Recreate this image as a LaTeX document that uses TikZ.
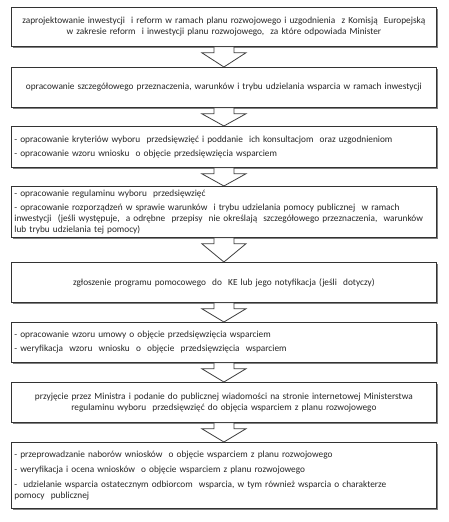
\documentclass[tikz,border=0pt]{standalone}
\usepackage{fontspec}
\setmainfont{Carlito}
\usetikzlibrary{shadows,calc}
\newcommand{\blockarrow}[2]{%
  \draw[barrow] let \p1=(#1.south), \p2=(#2.north) in
    (\x1-10pt,\y1) -- (\x1-10pt,\y1-6pt) -- (\x1-22pt,\y1-6pt) -- (\x1,\y2)
    -- (\x1+22pt,\y1-6pt) -- (\x1+10pt,\y1-6pt) -- (\x1+10pt,\y1) -- cycle;}
\begin{document}
\begin{tikzpicture}[x=1pt,y=1pt,
  stage/.style={draw=black!80, line width=0.8pt, fill=white, anchor=north west,
    minimum width=425pt, text width=419pt, inner xsep=3pt, inner ysep=2pt,
    font=\fontsize{9.3}{11.2}\selectfont, text=black!85,
    drop shadow={shadow xshift=1.8pt, shadow yshift=-1.8pt, fill=black!50, opacity=1}},
  leftbox/.style={stage, align=left},
  midbox/.style={stage, align=center},
  barrow/.style={draw=black!75, line width=0.8pt, fill=white, line join=miter}]
\useasboundingbox (0,0) rectangle (448,-522);
\fill[white] (0,0) rectangle (448,-522);

\node[midbox, minimum height=39pt] (b1) at (11,-7)
  {zaprojektowanie inwestycji\ \ i reform w ramach planu rozwojowego i uzgodnienia\ \ z Komisją\ \ Europejską\\
   w zakresie reform\ \ i inwestycji planu rozwojowego,\ \ za które odpowiada Minister};
\node[midbox, minimum height=40pt] (b2) at (11,-67)
  {opracowanie szczegółowego przeznaczenia, warunków i trybu udzielania wsparcia w ramach inwestycji};
\node[leftbox, minimum height=41pt] (b3) at (11,-126)
  {- opracowanie kryteriów wyboru\ \ przedsięwzięć i poddanie\ \ ich konsultacjom\ \ oraz uzgodnieniom\\[3pt]
   - opracowanie wzoru wniosku\ \ o objęcie przedsięwzięcia wsparciem};
\node[leftbox, minimum height=51pt] (b4) at (11,-186)
  {- opracowanie regulaminu wyboru\ \ przedsięwzięć\\[3pt]
   - opracowanie rozporządzeń w sprawie warunków\ \ i trybu udzielania pomocy publicznej\ \ w ramach\\
   inwestycji\ \ (jeśli występuje,\ \ a odrębne\ \ przepisy\ \ nie określają\ \ szczegółowego przeznaczenia,\ \ warunków\\
   lub trybu udzielania tej pomocy)};
\node[midbox, minimum height=40pt] (b5) at (11,-262)
  {zgłoszenie programu pomocowego\ \ do\ \ KE lub jego notyfikacja (jeśli\ \ dotyczy)};
\node[leftbox, minimum height=40pt] (b6) at (11,-322)
  {- opracowanie wzoru umowy o objęcie przedsięwzięcia wsparciem\\[3pt]
   - weryfikacja\ \ wzoru\ \ wniosku\ \ o\ \ objęcie\ \ przedsięwzięcia\ \ wsparciem};
\node[midbox, minimum height=40pt] (b7) at (11,-382)
  {przyjęcie przez Ministra i podanie do publicznej wiadomości na stronie internetowej Ministerstwa\\
   regulaminu wyboru\ \ przedsięwzięć do objęcia wsparciem z planu rozwojowego};
\node[leftbox, minimum height=66pt] (b8) at (11,-442)
  {- przeprowadzanie naborów wniosków\ \ o objęcie wsparciem z planu rozwojowego\\[4pt]
   - weryfikacja i ocena wniosków\ \ o objęcie wsparciem z planu rozwojowego\\[4pt]
   -\ \ udzielanie wsparcia ostatecznym odbiorcom\ \ wsparcia, w tym również wsparcia o charakterze\\
   pomocy\ \ publicznej};

\blockarrow{b1}{b2}
\blockarrow{b2}{b3}
\blockarrow{b3}{b4}
\blockarrow{b4}{b5}
\blockarrow{b5}{b6}
\blockarrow{b6}{b7}
\blockarrow{b7}{b8}
\end{tikzpicture}
\end{document}
